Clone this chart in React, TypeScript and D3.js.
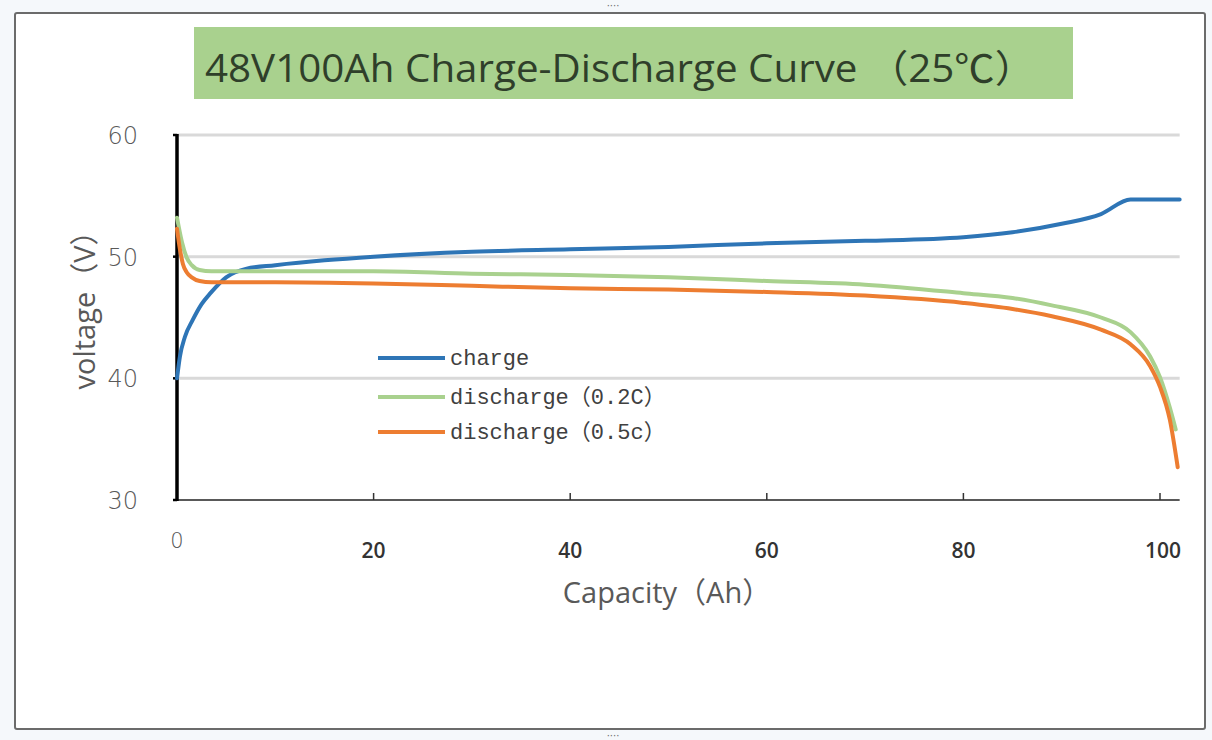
import React from 'react';
import * as d3 from 'd3';

// capacity (Ah) / voltage (V)
const chargeCap = [0, 0.3, 0.8, 1.6, 2.5, 3.4, 5, 7, 10, 15, 20, 30, 40, 50, 60, 70, 80, 85, 90, 94, 97, 102];
const chargeV = [40, 41.8, 43.4, 44.8, 46.1, 47, 48.3, 49.0, 49.3, 49.7, 50.0, 50.4, 50.6, 50.8, 51.1, 51.3, 51.6, 52.0, 52.7, 53.5, 54.7, 54.7];

const dis02Cap = [0, 0.5, 1, 1.5, 2.3, 3.5, 5, 10, 20, 30, 40, 50, 60, 70, 80, 85, 89, 94, 97, 99, 100, 101, 101.6];
const dis02V = [53.2, 51.2, 49.9, 49.3, 48.9, 48.8, 48.8, 48.8, 48.8, 48.6, 48.5, 48.3, 48.0, 47.7, 47.0, 46.6, 46.0, 45.0, 43.8, 41.8, 40.1, 37.6, 35.8];

const dis05Cap = [0, 0.3, 0.6, 1, 1.5, 2.3, 3.5, 5, 10, 20, 30, 40, 50, 60, 70, 80, 85, 89, 94, 97, 99, 100, 101, 101.8];
const dis05V = [52.3, 50.6, 49.4, 48.7, 48.3, 48.0, 47.9, 47.9, 47.9, 47.8, 47.6, 47.4, 47.3, 47.1, 46.8, 46.2, 45.7, 45.1, 44.0, 42.8, 41.0, 39.3, 36.6, 32.7];

// legend: name + optional rate shown in full-width brackets
const seriesNames = ['charge', 'discharge', 'discharge'];
const seriesRates = ['', '0.2C', '0.5c'];
const seriesColors = ['#2e75b6', '#a9d18e', '#ed7d31'];

const xTicks = [0, 20, 40, 60, 80, 100];
const yTicks = [30, 40, 50, 60];
const gridTicks = [40, 50, 60];

const title = '48V100Ah Charge-Discharge  Curve  （25℃）';

export default function App() {
  React.useEffect(() => {
    document.body.style.margin = '0';
  }, []);

  const W = 1212;
  const H = 740;
  const x = d3.scaleLinear().domain([0, 100]).range([177, 1160]);
  const y = d3.scaleLinear().domain([30, 60]).range([500, 135]);
  const xEnd = x(102);

  const line = d3.line<[number, number]>()
    .x(d => x(d[0]))
    .y(d => y(d[1]))
    .curve(d3.curveMonotoneX);

  const series = [
    d3.zip(chargeCap, chargeV) as [number, number][],
    d3.zip(dis02Cap, dis02V) as [number, number][],
    d3.zip(dis05Cap, dis05V) as [number, number][],
  ];
  const legendY = [358, 397, 432];
  const cjk = "'Noto Sans CJK SC'";

  return (
    <svg width={W} height={H} style={{ display: 'block' }}>
      <rect x={0} y={0} width={W} height={H} fill="#f5f8fb" />
      <rect x={15} y={13} width={1190} height={716} fill="#ffffff" stroke="#6b6b6b" strokeWidth={2} rx={2} />
      {/* resize handles */}
      <text x={613} y={9} textAnchor="middle" fontFamily="DejaVu Sans" fontSize={10} fill="#6b6b6b">····</text>
      <text x={613} y={739} textAnchor="middle" fontFamily="DejaVu Sans" fontSize={10} fill="#6b6b6b">····</text>

      {/* title */}
      <rect x={194} y={27} width={879} height={72} fill="#a9d18e" />
      <text x={205} y={82} fontFamily="'Open Sans', 'Noto Sans CJK SC'" fontSize={38} fill="#2f3f2a"
        textLength={830} lengthAdjust="spacingAndGlyphs">{title}</text>

      {/* gridlines */}
      {gridTicks.map(t => (
        <line key={t} x1={x(0)} x2={xEnd} y1={y(t)} y2={y(t)} stroke="#d9d9d9" strokeWidth={3} />
      ))}

      {/* x axis */}
      <line x1={x(0)} x2={xEnd} y1={y(30)} y2={y(30)} stroke="#595959" strokeWidth={2} />
      {xTicks.filter(t => t > 0).map(t => (
        <line key={t} x1={x(t)} x2={x(t)} y1={y(30) - 7} y2={y(30)} stroke="#333" strokeWidth={1.5} />
      ))}
      {xTicks.map(t => (
        <text key={t} x={x(t) + (t === 100 ? 3 : 0)} y={t === 0 ? 548 : 558} textAnchor="middle"
          fontFamily={t === 0 ? "'DejaVu Sans'" : "'Open Sans'"} fontWeight={t === 0 ? 300 : 600}
          fontSize={21} fill={t === 0 ? '#555' : '#333'}>{t}</text>
      ))}

      {/* y axis */}
      <line x1={x(0)} x2={x(0)} y1={y(60) - 1} y2={y(30) + 1} stroke="#000" strokeWidth={3.5} />
      {yTicks.map(t => (
        <line key={t} x1={x(0) - 4} x2={x(0)} y1={y(t)} y2={y(t)} stroke="#000" strokeWidth={2.5} />
      ))}
      {yTicks.map(t => (
        <text key={t} x={138} y={y(t) + 9} textAnchor="end" fontFamily="'DejaVu Sans'" fontWeight={300}
          fontSize={24} fill="#595959">{t}</text>
      ))}

      {/* axis titles */}
      <text transform="translate(95,303) rotate(-90)" textAnchor="middle"
        fontFamily="'Open Sans', 'Noto Sans CJK SC'" fontSize={29} fill="#595959">voltage（V）</text>
      <text x={667} y={603} textAnchor="middle" fontFamily="'Open Sans', 'Noto Sans CJK SC'"
        fontSize={29} fill="#595959">Capacity（Ah）</text>

      {/* curves */}
      {series.map((s, i) => (
        <path key={i} d={line(s) || ''} fill="none" stroke={seriesColors[i]} strokeWidth={4}
          strokeLinejoin="round" strokeLinecap="round" />
      ))}

      {/* legend */}
      {seriesNames.map((n, i) => (
        <g key={i}>
          <line x1={378} x2={445} y1={legendY[i]} y2={legendY[i]} stroke={seriesColors[i]} strokeWidth={4} />
          <text x={450} y={legendY[i] + 7} fontFamily="'Liberation Mono'" fontSize={22} fill="#404040">
            {n}
            {seriesRates[i] && (
              <>
                <tspan fontFamily={cjk}>（</tspan>
                <tspan>{seriesRates[i]}</tspan>
                <tspan fontFamily={cjk}>）</tspan>
              </>
            )}
          </text>
        </g>
      ))}
    </svg>
  );
}
